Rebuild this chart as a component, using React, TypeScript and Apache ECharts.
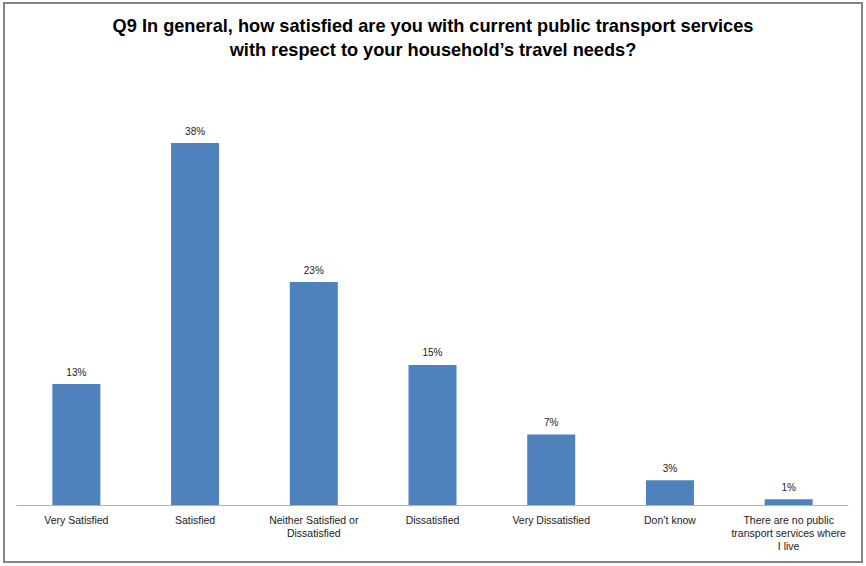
import React, { useEffect, useRef } from "react";
import * as echarts from "echarts";

const categories = [
  "Very Satisfied",
  "Satisfied",
  "Neither Satisfied or\nDissatisfied",
  "Dissatisfied",
  "Very Dissatisfied",
  "Don\u2019t know",
  "There are no public\ntransport services where\nI live",
];
const values = [12.7, 38, 23.4, 14.7, 7.4, 2.6, 0.6];
const titleLines = [
  "Q9 In general, how satisfied are you with current public transport services",
  "with respect to your household\u2019s travel needs?",
];

export default function App() {
  const ref = useRef<HTMLDivElement>(null);
  useEffect(() => {
    const chart = echarts.init(ref.current!, null, { renderer: "svg" });
    chart.setOption({
      animation: false,
      backgroundColor: "#ffffff",
      title: {
        text: titleLines.join("\n"),
        left: "center",
        top: 9,
        textStyle: {
          fontFamily: "Liberation Sans, Arial, sans-serif",
          fontWeight: "bold",
          fontSize: 18.2,
          lineHeight: 24,
          color: "#000000",
        },
      },
      graphic: [
        {
          type: "rect",
          shape: { x: 4, y: 3, width: 858, height: 559 },
          style: { fill: "none", stroke: "#858585", lineWidth: 2 },
          silent: true,
        },
      ],
      grid: { left: 17, right: 18, top: 124, bottom: 61, containLabel: false },
      xAxis: {
        type: "category",
        data: categories,
        axisLine: { lineStyle: { color: "#b3b3b3", width: 1 } },
        axisTick: { show: false },
        axisLabel: {
          interval: 0,
          margin: 8,
          fontFamily: "Liberation Sans, Arial, sans-serif",
          fontSize: 10.5,
          lineHeight: 13,
          color: "#1a1a1a",
        },
      },
      yAxis: {
        type: "value",
        min: 0,
        max: 40,
        show: false,
        splitLine: { show: false },
      },
      series: [
        {
          type: "bar",
          data: values,
          barWidth: 48,
          itemStyle: { color: "#4f81bd" },
          label: {
            show: true,
            position: "top",
            distance: 7,
            formatter: (p: any) => Math.round(p.value) + "%",
            fontFamily: "Liberation Sans, Arial, sans-serif",
            fontSize: 10,
            color: "#1a1a1a",
          },
        },
      ],
    });
    return () => chart.dispose();
  }, []);
  return (
    <div
      ref={ref}
      style={{ position: "fixed", left: 0, top: 0, width: 866, height: 566 }}
    />
  );
}
